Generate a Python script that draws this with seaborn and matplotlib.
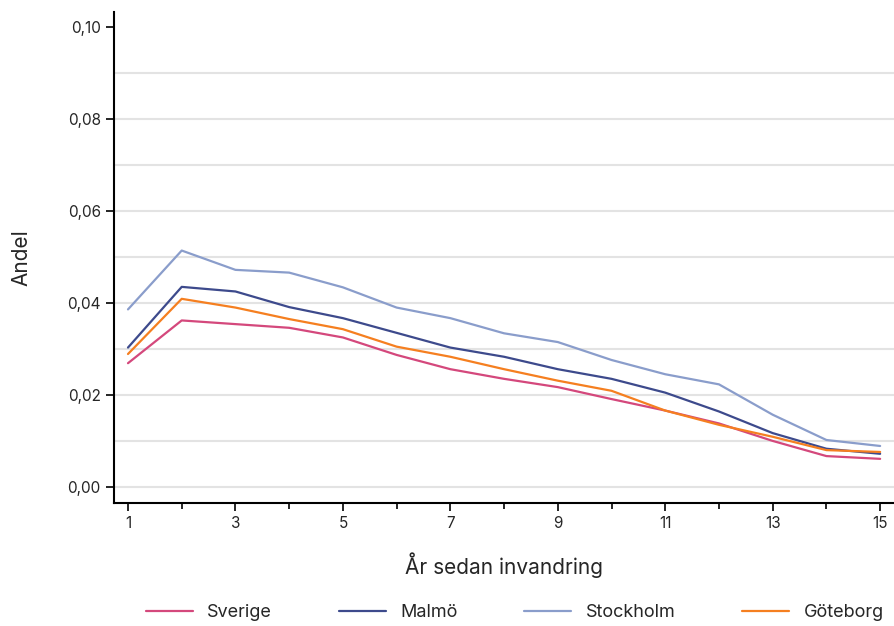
import numpy as np
import pandas as pd
import matplotlib
matplotlib.use("Agg")
import matplotlib.pyplot as plt
from matplotlib.ticker import FuncFormatter, MultipleLocator
import seaborn as sns

# data
years = list(range(1, 16))
sverige = [0.0269, 0.0362, 0.0354, 0.0346, 0.0325, 0.0287, 0.0256, 0.0235, 0.0217, 0.0191, 0.0166, 0.0138, 0.0100, 0.0067, 0.0061]
malmo = [0.0303, 0.0435, 0.0425, 0.0391, 0.0367, 0.0335, 0.0303, 0.0283, 0.0256, 0.0235, 0.0205, 0.0164, 0.0117, 0.0083, 0.0072]
stockholm = [0.0386, 0.0514, 0.0472, 0.0466, 0.0434, 0.0390, 0.0367, 0.0334, 0.0315, 0.0276, 0.0245, 0.0223, 0.0157, 0.0102, 0.0089]
goteborg = [0.0289, 0.0409, 0.0390, 0.0365, 0.0343, 0.0305, 0.0283, 0.0256, 0.0231, 0.0209, 0.0166, 0.0135, 0.0109, 0.0080, 0.0076]

names = ["Sverige", "Malmö", "Stockholm", "Göteborg"]
colors = ["#d4487c", "#3d4a8c", "#8a9dcb", "#f57f20"]

df = pd.DataFrame({
    "year": years * 4,
    "value": sverige + malmo + stockholm + goteborg,
    "region": sum([[n] * len(years) for n in names], []),
})

sns.set_style("white")
plt.rcParams["font.family"] = ["Inter", "DejaVu Sans"]

fig = plt.figure(figsize=(8.95, 6.26), dpi=100)
ax = fig.add_axes([0.1274, 0.1965, 0.8716, 0.7845])

# light grid every 0.01
for v in np.arange(0, 0.091, 0.01):
    ax.axhline(v, color="#e3e3e3", lw=1.5, zorder=0)

sns.lineplot(data=df, x="year", y="value", hue="region", hue_order=names,
             palette=colors, lw=1.6, ax=ax, legend=True)

ax.set_xlim(0.74, 15.26)
ax.set_ylim(-0.0035, 0.1033)
ax.set_xticks(range(1, 16, 2))
ax.xaxis.set_minor_locator(MultipleLocator(1))
ax.yaxis.set_major_locator(MultipleLocator(0.02))
ax.yaxis.set_major_formatter(FuncFormatter(lambda v, p: f"{v:.2f}".replace(".", ",")))
ax.tick_params(axis="both", which="major", direction="out", length=6, width=1.2,
               color="black", labelsize=11, left=True, bottom=True)
ax.tick_params(axis="x", which="minor", direction="out", length=4, width=1.2,
               color="black", bottom=True)

for s in ["top", "right"]:
    ax.spines[s].set_visible(False)
for s in ["left", "bottom"]:
    ax.spines[s].set_color("black")
    ax.spines[s].set_linewidth(1.5)

ax.set_xlabel("År sedan invandring", fontsize=15)
ax.xaxis.set_label_coords(0.5, -0.10)
ax.set_ylabel("Andel", fontsize=15)
ax.yaxis.set_label_coords(-0.106, 0.5)

handles, labels = ax.get_legend_handles_labels()
ax.get_legend().remove()
fig.legend(handles, labels, loc="center", bbox_to_anchor=(0.575, 0.021), ncol=4,
           frameon=False, fontsize=13, handlelength=2.6, columnspacing=3.7)

fig.savefig("out.png", dpi=100)
